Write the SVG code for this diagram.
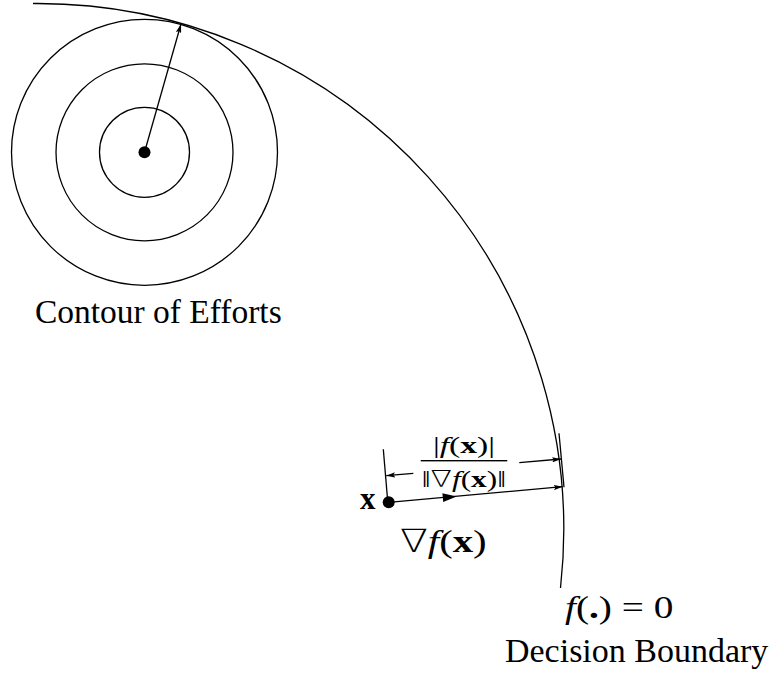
<svg xmlns="http://www.w3.org/2000/svg" width="772" height="679" viewBox="0 0 772 679">
<style>
.ln{fill:none;stroke:#000;stroke-width:1.3}
.t{font-family:"Liberation Serif","DejaVu Serif",serif;fill:#000}
.i{font-style:italic}
.b{font-weight:bold}
.nb{font-family:"DejaVu Sans","DejaVu Serif",sans-serif;font-weight:200}
</style>
<defs>
<marker id="ah" viewBox="0 0 10 6" refX="10" refY="3" markerWidth="9" markerHeight="5.4" markerUnits="userSpaceOnUse" orient="auto">
<path d="M0,0 L10,3 L0,6 L2,3 z" fill="#000"/>
</marker>
</defs>
<rect width="772" height="679" fill="#fff"/>
<g id="boundary">
<path class="ln" d="M33,3.5 A526,526 0 0 1 560.5,588"/>
</g>
<g id="contours">
<circle class="ln" cx="144.5" cy="152.3" r="45"/>
<circle class="ln" cx="144.5" cy="152.3" r="88.5"/>
<circle class="ln" cx="144.5" cy="152.3" r="133"/>
<circle cx="144.5" cy="152.3" r="6" fill="#000"/>
</g>
<g id="point-x">
<circle cx="388.7" cy="502.3" r="6" fill="#000"/>
<text class="t b" x="360" y="508.5" font-size="31">x</text>
</g>
<g id="connectors">
<line class="ln" x1="144.5" y1="152.3" x2="181" y2="24" marker-end="url(#ah)"/>
<line class="ln" x1="388.7" y1="502.3" x2="562.7" y2="486.7" marker-end="url(#ah)"/>
<polygon points="456.7,496.4 443.2,502.1 442.4,493.2" fill="#000"/>
<line class="ln" x1="383.3" y1="449.3" x2="387.7" y2="501"/>
<line class="ln" x1="559" y1="433.3" x2="564" y2="487.3"/>
<line class="ln" x1="413.3" y1="473.3" x2="386.2" y2="475.7" marker-end="url(#ah)"/>
<line class="ln" x1="519.3" y1="462.7" x2="561" y2="459" marker-end="url(#ah)"/>
</g>
<g id="distance-label">
<text class="t" x="433" y="453" font-size="23" textLength="62" lengthAdjust="spacingAndGlyphs">|<tspan class="i">f</tspan>(<tspan class="b">x</tspan>)|</text>
<rect x="420.7" y="460" width="86.6" height="1.4" fill="#000"/>
<text class="t" x="421.7" y="486.5" font-size="23" textLength="84.3" lengthAdjust="spacingAndGlyphs">‖<tspan class="nb">∇</tspan><tspan class="i">f</tspan>(<tspan class="b">x</tspan>)‖</text>
</g>
<g id="gradient-label">
<text class="t" x="400" y="551.5" font-size="32" textLength="86.7" lengthAdjust="spacingAndGlyphs"><tspan class="nb">∇</tspan><tspan class="i">f</tspan>(<tspan class="b">x</tspan>)</text>
</g>
<g id="labels">
<text class="t" x="35" y="323.3" font-size="33" textLength="246.7" lengthAdjust="spacingAndGlyphs">Contour of Efforts</text>
<text class="t" x="565" y="618.3" font-size="32" textLength="108.3" lengthAdjust="spacingAndGlyphs"><tspan class="i">f</tspan>(<tspan class="b">.</tspan>) = 0</text>
<text class="t" x="505" y="661.7" font-size="33" textLength="263.3" lengthAdjust="spacingAndGlyphs">Decision Boundary</text>
</g>
</svg>
